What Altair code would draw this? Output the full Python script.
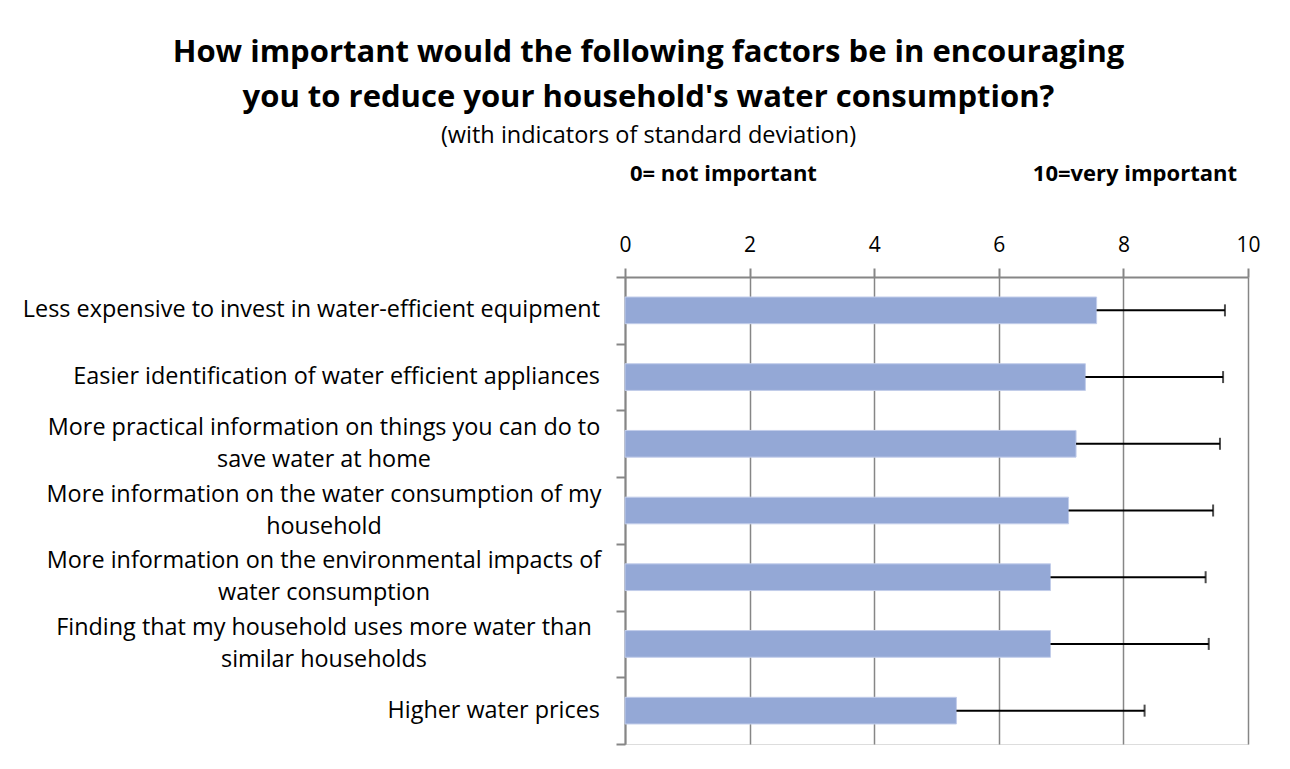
import altair as alt
import pandas as pd

categories = [
    "Less expensive to invest in water-efficient equipment",
    "Easier identification of water efficient appliances",
    "More practical information on things you can do to\nsave water at home",
    "More information on the water consumption of my\nhousehold",
    "More information on the environmental impacts of\nwater consumption",
    "Finding that my household uses more water than\nsimilar households",
    "Higher water prices",
]
means = [7.57, 7.39, 7.24, 7.12, 6.83, 6.83, 5.32]
sds = [2.06, 2.21, 2.31, 2.32, 2.49, 2.54, 3.02]
x_ticks = [0, 2, 4, 6, 8, 10]

title_lines = [
    "How important would the following factors be in encouraging",
    "you to reduce your household's water consumption?",
]
subtitle_text = "(with indicators of standard deviation)"
low_note = "0= not important"
high_note = "10=very important"

df = pd.DataFrame({"factor": categories, "mean": means, "sd": sds})

FONT = "Open Sans"
GRAY = "#868686"
LABEL_SIZE = 23.4

y_scale = alt.Scale(paddingInner=0, paddingOuter=0)
x_scale = alt.Scale(domain=[0, 10], nice=False)

base = alt.Chart(df)

bars = base.mark_bar(
    color="#94A8D6", stroke="#c2cdea", strokeWidth=1, height={"band": 0.4}
).encode(
    x=alt.X(
        "mean:Q",
        scale=x_scale,
        axis=alt.Axis(
            orient="top",
            values=x_ticks,
            format="d",
            title=None,
            labelFont=FONT,
            labelFontSize=21,
            labelColor="black",
            labelPadding=13,
            labelFlush=False,
            tickSize=9,
            tickColor=GRAY,
            tickWidth=2,
            domainColor=GRAY,
            domainWidth=2,
            grid=True,
            gridColor=GRAY,
            gridWidth=1.5,
        ),
    ),
    y=alt.Y(
        "factor:N",
        sort=categories,
        scale=y_scale,
        axis=alt.Axis(
            title=None,
            labels=False,
            tickBand="extent",
            tickSize=9,
            tickColor=GRAY,
            tickWidth=2,
            domainColor=GRAY,
            domainWidth=2,
            grid=False,
        ),
    ),
)

err = base.transform_calculate(hi="datum.mean + datum.sd").mark_rule(
    color="black", strokeWidth=2
).encode(
    x=alt.X("mean:Q", scale=x_scale),
    x2="hi:Q",
    y=alt.Y("factor:N", sort=categories, scale=y_scale),
)

caps = base.transform_calculate(hi="datum.mean + datum.sd").mark_tick(
    color="black", thickness=2, size=12, orient="vertical"
).encode(
    x=alt.X("hi:Q", scale=x_scale),
    y=alt.Y("factor:N", sort=categories, scale=y_scale),
)

single_labels = base.transform_filter(
    "indexof(datum.factor, '\\n') < 0"
).mark_text(align="right", baseline="middle", font=FONT, fontSize=LABEL_SIZE, color="black").encode(
    x=alt.value(-25),
    y=alt.Y("factor:N", sort=categories, scale=y_scale),
    text="factor:N",
)

multi_labels = base.transform_filter(
    "indexof(datum.factor, '\\n') >= 0"
).mark_text(
    align="center", baseline="middle", font=FONT, fontSize=LABEL_SIZE, color="black",
    lineBreak="\n", lineHeight=32, dy=-16,
).encode(
    x=alt.value(-301),
    y=alt.Y("factor:N", sort=categories, scale=y_scale),
    text="factor:N",
)

low = alt.Chart(pd.DataFrame({"note": [low_note]})).mark_text(
    align="left", baseline="alphabetic", font=FONT, fontSize=22, fontWeight="bold", dx=5, color="black"
).encode(x=alt.datum(0, scale=x_scale), y=alt.value(-96), text="note:N")
high = alt.Chart(pd.DataFrame({"note": [high_note]})).mark_text(
    align="right", baseline="alphabetic", font=FONT, fontSize=22, fontWeight="bold", dx=-11, color="black"
).encode(x=alt.datum(10, scale=x_scale), y=alt.value(-96), text="note:N")

chart = alt.layer(bars, err, caps, single_labels, multi_labels, low, high).properties(
    width=623,
    height=467,
    autosize=alt.AutoSizeParams(type="none"),
    padding={"left": 617, "top": 269, "right": 34, "bottom": 17},
    title=alt.TitleParams(
        text=title_lines,
        subtitle=subtitle_text,
        anchor="middle",
        frame="group",
        dx=-288,
        font=FONT,
        fontSize=31,
        fontWeight="bold",
        lineHeight=45,
        color="black",
        subtitleFont=FONT,
        subtitleFontSize=23.5,
        subtitleColor="black",
        subtitlePadding=10,
        offset=15,
    ),
).configure_view(stroke=None).configure(background="white")

chart.save("out.html", embed_options={"renderer": "svg", "actions": False})
